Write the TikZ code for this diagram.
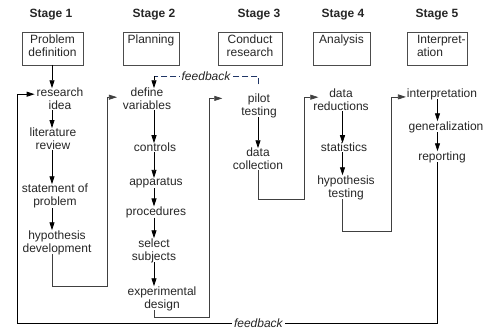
\documentclass[tikz,border=0pt]{standalone}
\usepackage{fontspec}
\setmainfont{Liberation Sans}
\usetikzlibrary{arrows.meta}
\definecolor{txt}{HTML}{262626}
\definecolor{fbblue}{HTML}{1F3566}
\begin{document}
\begin{tikzpicture}[x=1pt,y=-1pt,
  every node/.style={font=\fontsize{12}{13}\selectfont, text=txt, inner sep=0pt, outer sep=0pt, align=center},
  stagelbl/.style={font=\fontsize{12}{13}\selectfont\bfseries},
  stagebox/.style={draw=black!70, line width=0.8pt, minimum height=33pt},
  arr/.style={draw=black, line width=0.8pt, -{Triangle[length=8pt,width=5pt]}},
  loopline/.style={draw=black!75, line width=0.7pt},
  looparr/.style={loopline, -{Triangle[length=8pt,width=5pt]}},
  fbline/.style={draw=black, line width=0.9pt, -{Triangle[length=8pt,width=5pt]}},
  fbtop/.style={draw=fbblue, line width=0.8pt, dash pattern=on 6pt off 3pt},
  fblbl/.style={font=\fontsize{12}{13}\selectfont\itshape, fill=white, inner xsep=2pt, inner ysep=1pt},
]
\useasboundingbox (0,0) rectangle (490,331);

% stage labels
\node[stagelbl] (s1) at (51,15) {Stage 1};
\node[stagelbl] (s2) at (154,15) {Stage 2};
\node[stagelbl] (s3) at (259,15) {Stage 3};
\node[stagelbl] (s4) at (343,15) {Stage 4};
\node[stagelbl] (s5) at (437,15) {Stage 5};

% stage boxes
\node[stagebox, minimum width=61pt] (b1) at (52.5,48.5) {};
\node[stagebox, minimum width=56pt] (b2) at (151,48.5) {};
\node[stagebox, minimum width=64pt] (b3) at (250,48.5) {};
\node[stagebox, minimum width=57pt] (b4) at (341.5,48.5) {};
\node[stagebox, minimum width=60pt] (b5) at (437,48.5) {};
\node[anchor=north] (t1) at ([yshift=-3pt]b1.north) {Problem\\definition};
\node[anchor=north] (t2) at ([yshift=-3pt]b2.north) {Planning};
\node[anchor=north] (t3) at ([yshift=-3pt]b3.north) {Conduct\\research};
\node[anchor=north] (t4) at ([yshift=-3pt]b4.north) {Analysis};
\node[anchor=north west, align=left] (t5) at ([xshift=10pt,yshift=-3pt]b5.north west) {Interpret-\\ation};

% column coordinates
\coordinate (c1) at (52,0);
\coordinate (c2) at (154,0);
\coordinate (c3) at (258,0);
\coordinate (c4) at (342.5,0);
\coordinate (c5) at (437.5,0);

% stage 1
\node (ri) at (60,99.2) {research\\idea};
\node (lr) at (53,139) {literature\\review};
\node (sp) at (55,196.4) {statement of\\problem};
\node (hd) at (57,242.4) {hypothesis\\development};
% stage 2
\node (dv) at (147,99.2) {define\\variables};
\node (co) at (155,147.6) {controls};
\node (ap) at (156,183) {apparatus};
\node (pr) at (156,212) {procedures};
\node (ss) at (154,250.4) {select\\subjects};
\node (ed) at (162,298.4) {experimental\\design};
% stage 3
\node (pt) at (259,105.4) {pilot\\testing};
\node (dc) at (258,159.2) {data\\collection};
% stage 4
\node (dr) at (341,100.2) {data\\reductions};
\node (st) at (344,147.6) {statistics};
\node (ht) at (346,187.4) {hypothesis\\testing};
% stage 5
\node (ip) at (442,93.9) {interpretation};
\node (ge) at (446,126.9) {generalization};
\node (rp) at (442,156.9) {reporting};

% stage 1 arrows
\draw[arr] (b1.south -| c1) -- (ri.north -| c1);
\draw[arr] (ri.south -| c1) -- (lr.north -| c1);
\draw[arr] (lr.south -| c1) -- (sp.north -| c1);
\draw[arr] (sp.south -| c1) -- (hd.north -| c1);
% stage 2 arrows
\draw[arr] (dv.south -| c2) -- (co.north -| c2);
\draw[arr] (co.south -| c2) -- (ap.north -| c2);
\draw[arr] (ap.south -| c2) -- (pr.north -| c2);
\draw[arr] (pr.south -| c2) -- (ss.north -| c2);
\draw[arr] (ss.south -| c2) -- (ed.north -| c2);
% stage 3 arrows
\draw[arr] (pt.south -| c3) -- (dc.north -| c3);
% stage 4 arrows
\draw[arr] (dr.south -| c4) -- (st.north -| c4);
\draw[arr] (st.south -| c4) -- (ht.north -| c4);
% stage 5 arrows
\draw[arr] (ip.south -| c5) -- (ge.north -| c5);
\draw[arr] (ge.south -| c5) -- (rp.north -| c5);

% loops between stages
\coordinate (k1) at (107,286);
\coordinate (k2) at (209,317);
\coordinate (k3) at (304,199);
\coordinate (k4) at (391,231);
\coordinate (k5) at (17,323);
\draw[looparr] (hd.south -| c1) |- (k1) |- ([xshift=-6pt,yshift=2pt]dv.west);
\draw[looparr] (ed.south -| c2) |- (k2) |- ([xshift=-19pt,yshift=7pt]pt.west);
\draw[looparr] (dc.south -| c3) |- (k3) |- ([xshift=5pt,yshift=3pt]dr.west);
\draw[looparr] (ht.south -| c4) |- (k4) |- ([xshift=-1pt,yshift=-3pt]ip.west);

% bottom feedback
\draw[fbline] (rp.south -| c5) |- node[fblbl, pos=0.713] (fb2) {feedback} (k5) |- ([xshift=-2pt,yshift=5pt]ri.west);

% top feedback
\coordinate (fy) at (0,76);
\draw[fbtop] ([yshift=9pt]pt.north -| c3) -- (fy -| c3) -- node[fblbl] (fb1) {feedback} (fy -| c2);
\draw[arr] (fy -| c2) -- (dv.north -| c2);
\end{tikzpicture}
\end{document}
